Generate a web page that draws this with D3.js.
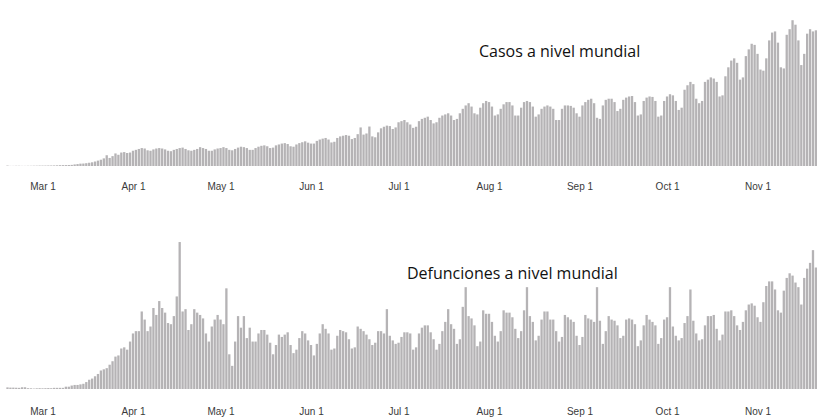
<!DOCTYPE html>
<html>
<head>
    <title>Casos y defunciones a nivel mundial</title>
    <script src="https://d3js.org/d3.v7.min.js"></script>
    <style>
        body {
            margin: 0;
            background: #fff;
        }
        .tick text {
            font-family: "Liberation Sans", Arial, sans-serif;
            font-size: 10px;
            fill: #3a3a3a;
        }
        .title {
            font-family: "Open Sans", sans-serif;
            font-size: 16px;
            fill: #111;
        }
    </style>
</head>
<body>
    <svg id="canvas" width="817" height="419"></svg>

    <script>
        // daily values from 18 Feb 2020, in thousands
        const startDate = new Date(Date.UTC(2020, 1, 18));

        const cases = [
            1.9, 0.5, 0.6, 1.0, 1.0, 0.6, 0.6, 0.9, 0.9, 1.3, 1.4, 1.8,
            // Mar
            1.8, 1.9, 2.2, 2.3, 2.6, 3.0, 3.6, 3.9, 4.0, 4.5, 5.0, 7.0, 8.5, 10.5, 11.0, 12.5, 14.5, 16.5, 20.0, 24.0,
            28.0, 34.0, 48.0, 36.0, 44.0, 56.0, 50.0, 60.0, 62.0, 58.0, 60.0,
            // Apr
            68, 72, 76, 80, 78, 70, 68, 74, 78, 80, 78, 74, 68, 66, 72, 76, 80, 82, 76, 70,
            68, 72, 76, 84, 80, 76, 68, 68, 74, 78,
            // May
            80, 84, 80, 72, 70, 76, 82, 86, 84, 80, 72, 72, 80, 86, 90, 92, 88, 80, 82, 92,
            96, 100, 102, 98, 88, 86, 96, 102, 106, 110, 104,
            // Jun
            100, 100, 112, 118, 122, 125, 118, 105, 108, 125, 132, 135, 138, 135, 120, 125, 142, 172, 140, 145,
            176, 132, 128, 150, 168, 175, 180, 178, 165, 172,
            // Jul
            195, 200, 205, 195, 185, 170, 175, 200, 210, 215, 220, 205, 190, 195, 215, 225, 230, 235, 225, 205,
            210, 235, 255, 270, 280, 265, 235, 230, 260, 280, 290,
            // Aug
            285, 265, 225, 230, 255, 275, 285, 285, 270, 225, 225, 260, 285, 290, 285, 265, 220, 230, 255, 265,
            270, 265, 255, 205, 205, 255, 270, 270, 268, 260, 235,
            // Sep
            220, 270, 285, 295, 300, 280, 215, 210, 270, 295, 300, 300, 285, 245, 255, 295, 305, 310, 312, 285,
            225, 230, 290, 305, 310, 308, 290, 220, 225, 290,
            // Oct
            310, 320, 315, 290, 250, 260, 340, 360, 375, 365, 300, 280, 290, 375, 385, 395, 390, 375, 310, 315,
            400, 440, 470, 480, 460, 385, 395, 490, 520, 545, 540,
            // Nov
            500, 430, 425, 480, 560, 595, 600, 550, 440, 435, 585, 610, 650, 630, 560, 450, 500, 590, 610, 600,
            605
        ];

        const deaths = [
            0.14, 0.12, 0.12, 0.11, 0.10, 0.15, 0.15, 0.07, 0.06, 0.04, 0.06, 0.07,
            // Mar
            0.06, 0.07, 0.08, 0.07, 0.10, 0.10, 0.10, 0.10, 0.20, 0.20, 0.30, 0.35, 0.35, 0.40, 0.45, 0.60, 0.80, 0.90, 1.10, 1.30,
            1.60, 1.70, 1.80, 2.10, 2.40, 2.80, 2.90, 3.50, 3.60, 3.40, 4.10,
            // Apr
            4.8, 5.0, 5.0, 6.7, 6.0, 5.0, 5.4, 7.0, 6.4, 7.6, 7.0, 6.6, 5.7, 5.6, 6.3, 8.0, 12.7, 6.7, 6.9, 5.1,
            5.6, 6.9, 6.6, 6.4, 6.1, 4.8, 4.1, 5.4, 6.0, 6.4,
            // May
            6.0, 5.6, 8.7, 3.0, 2.0, 4.1, 6.3, 5.3, 6.3, 4.4, 5.3, 4.1, 4.1, 4.8, 5.1, 5.1, 4.7, 4.0, 3.0, 3.8,
            4.7, 4.5, 4.7, 4.9, 3.8, 3.1, 3.4, 4.4, 5.0, 4.8, 4.2,
            // Jun
            3.8, 2.9, 3.9, 4.8, 5.6, 5.2, 4.8, 3.4, 3.5, 4.6, 5.1, 5.0, 4.9, 4.3, 3.5, 3.6, 5.4, 5.2, 5.0, 4.7,
            4.3, 3.8, 4.0, 5.0, 5.0, 4.8, 6.9, 4.6, 4.2, 3.9,
            // Jul
            4.0, 4.5, 4.9, 4.9, 4.8, 3.4, 3.6, 4.8, 5.3, 5.5, 5.5, 4.9, 4.3, 3.4, 3.9, 5.0, 5.8, 6.9, 5.6, 5.2,
            3.9, 4.3, 7.1, 8.8, 6.3, 6.1, 5.5, 3.7, 4.1, 6.8, 6.5,
            // Aug
            6.5, 5.8, 4.6, 4.1, 5.0, 6.8, 6.6, 6.6, 6.2, 5.2, 4.4, 5.0, 6.8, 8.8, 6.3, 5.8, 4.2, 4.6, 6.0, 6.7,
            6.7, 6.0, 6.0, 5.0, 4.1, 4.5, 6.4, 6.2, 6.0, 5.8, 4.6,
            // Sep
            3.8, 4.5, 6.4, 6.1, 6.0, 5.8, 8.8, 5.9, 3.9, 5.0, 6.3, 6.0, 5.9, 5.5, 4.4, 4.6, 6.0, 6.1, 6.0, 5.6,
            3.7, 4.2, 5.5, 6.4, 6.0, 5.8, 5.5, 3.9, 4.4, 6.0,
            // Oct
            6.2, 8.8, 5.4, 4.6, 4.2, 4.4, 5.7, 6.3, 8.6, 5.9, 4.8, 4.2, 4.3, 5.5, 6.3, 6.3, 6.4, 5.2, 4.2, 4.7,
            6.7, 6.7, 6.8, 6.3, 5.5, 5.1, 5.8, 6.8, 7.3, 7.4, 7.2,
            // Nov
            6.2, 5.8, 7.5, 8.9, 9.3, 9.3, 8.6, 6.8, 6.6, 8.5, 9.6, 10.0, 9.8, 9.2, 8.8, 7.3, 9.6, 10.4, 10.9, 12.0,
            10.5
        ];

        const dates = cases.map((d, i) => d3.utcDay.offset(startDate, i));
        const monthTicks = d3.utcMonth.range(new Date(Date.UTC(2020, 2, 1)), new Date(Date.UTC(2020, 10, 2)));

        const panels = [
            { title: 'Casos a nivel mundial', values: cases, max: 700, base: 166, top: 9, titleX: 479, titleY: 57, axisY: 183 },
            { title: 'Defunciones a nivel mundial', values: deaths, max: 14, base: 389, top: 227, titleX: 407, titleY: 279, axisY: 408 }
        ];

        const svg = d3.select('#canvas');
        const BAR_COLOR = '#b5b3b5';
        const BAR_W = 2.3;

        const x = d3.scaleUtc()
            .domain([startDate, dates[dates.length - 1]])
            .range([7.5, 815.9]);

        panels.forEach(p => {
            const y = d3.scaleLinear()
                .domain([0, p.max])
                .range([p.base, p.top]);

            const g = svg.append('g');

            g.selectAll('rect')
                .data(p.values)
                .join('rect')
                .attr('x', (d, i) => x(dates[i]) - BAR_W / 2)
                .attr('y', d => y(d))
                .attr('width', BAR_W)
                .attr('height', d => p.base - y(d))
                .attr('fill', BAR_COLOR);

            // month labels, no axis line
            const axis = d3.axisBottom(x)
                .tickValues(monthTicks)
                .tickFormat(d3.utcFormat('%b %-d'))
                .tickSize(0)
                .tickPadding(0);

            svg.append('g')
                .attr('transform', `translate(0,${p.axisY})`)
                .call(axis)
                .call(s => s.select('.domain').remove());

            svg.append('text')
                .attr('class', 'title')
                .attr('x', p.titleX)
                .attr('y', p.titleY)
                .text(p.title);
        });
    </script>
</body>
</html>
